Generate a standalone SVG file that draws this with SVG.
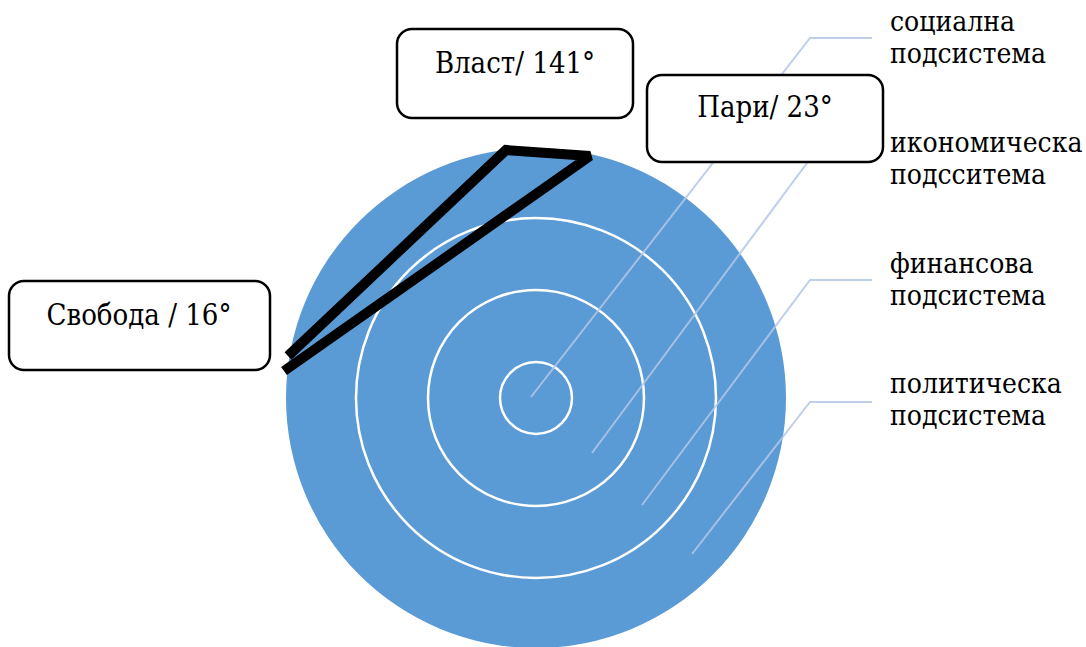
<svg xmlns="http://www.w3.org/2000/svg" width="1086" height="647" viewBox="0 0 1086 647">
  <style>
    text { font-family: "DejaVu Serif Condensed", "DejaVu Serif", serif; font-stretch: condensed; font-size: 29px; fill: #000; }
    .ctr { text-anchor: middle; }
    .side { font-size: 28px; }
    .box { fill: #fff; stroke: #000; stroke-width: 2.5; }
    .ring { fill: none; stroke: #fff; stroke-width: 2.5; }
    .lead { fill: none; stroke: #b4c7e7; stroke-opacity: 0.85; stroke-width: 2; }
  </style>
  <rect x="0" y="0" width="1086" height="647" fill="#fff"/>

  <g id="target">
    <circle cx="536" cy="398" r="250" fill="#5b9bd5"/>
    <circle class="ring" cx="536" cy="398" r="180"/>
    <circle class="ring" cx="536" cy="398" r="108"/>
    <circle class="ring" cx="536" cy="398" r="36"/>
  </g>

  <g id="triangle">
    <polyline points="288,356 506,150 590,156 284,371" fill="none" stroke="#000" stroke-width="10" stroke-linejoin="miter" stroke-miterlimit="2" stroke-linecap="butt"/>
  </g>

  <g id="connectors">
    <polyline class="lead" points="531,397 810,38 872,38"/>
    <polyline class="lead" points="592,453 810,159 872,159"/>
    <polyline class="lead" points="642,505 810,280 872,280"/>
    <polyline class="lead" points="692,554 810,402 872,402"/>
  </g>

  <g id="node-vlast">
    <rect class="box" x="397" y="29" width="236" height="89" rx="15"/>
    <text class="ctr" x="515" y="73">Власт/ 141°</text>
  </g>

  <g id="node-pari">
    <rect class="box" x="647" y="75" width="236" height="87" rx="15"/>
    <text class="ctr" x="765" y="117">Пари/ 23°</text>
  </g>

  <g id="node-svoboda">
    <rect class="box" x="9" y="281" width="261" height="89" rx="15"/>
    <text class="ctr" x="139" y="325">Свобода / 16°</text>
  </g>

  <g id="label-social">
    <text class="side" x="890" y="31">социална</text>
    <text class="side" x="890" y="63">подсистема</text>
  </g>
  <g id="label-economic">
    <text class="side" x="890" y="152">икономическа</text>
    <text class="side" x="890" y="184">подсситема</text>
  </g>
  <g id="label-financial">
    <text class="side" x="890" y="273">финансова</text>
    <text class="side" x="890" y="305">подсистема</text>
  </g>
  <g id="label-political">
    <text class="side" x="890" y="393">политическа</text>
    <text class="side" x="890" y="425">подсистема</text>
  </g>
</svg>
